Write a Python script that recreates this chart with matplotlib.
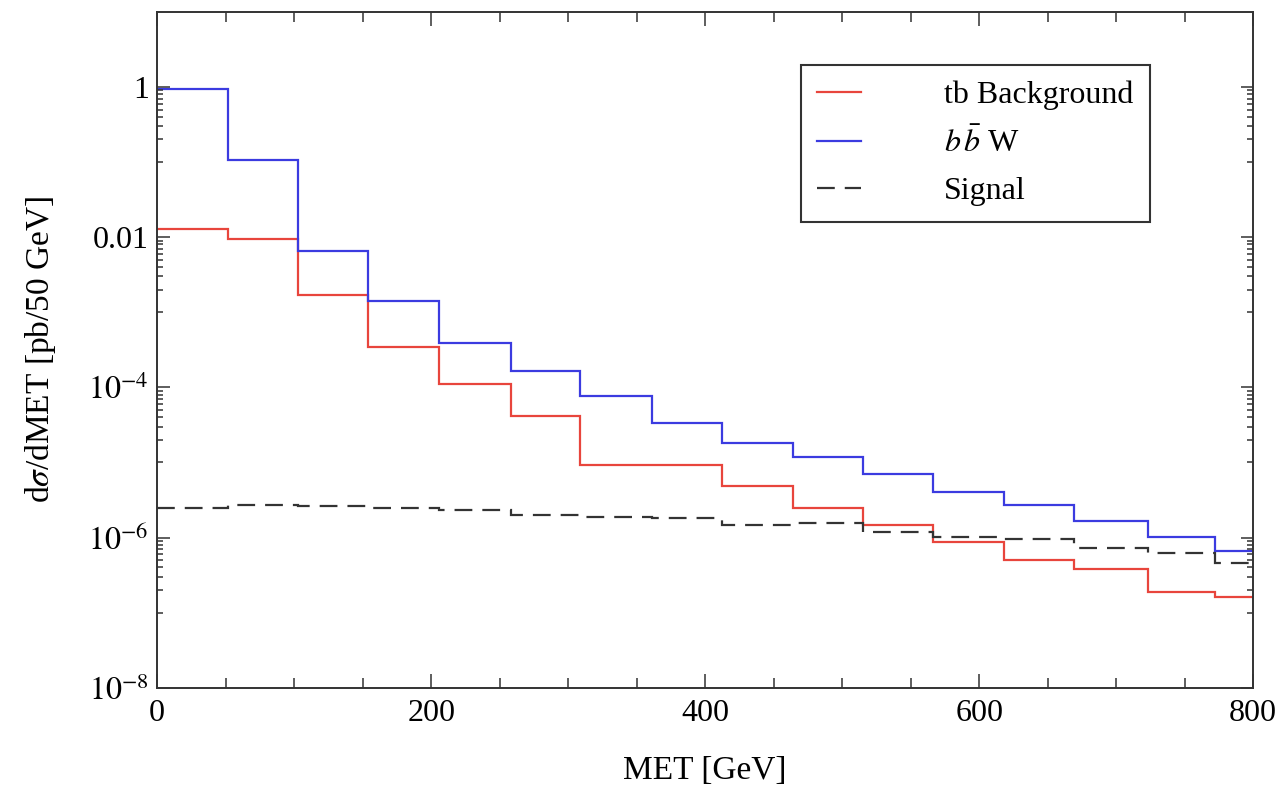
import matplotlib
matplotlib.use("Agg")
import matplotlib.pyplot as plt
import numpy as np

plt.rcParams['font.family'] = ['Liberation Serif', 'DejaVu Serif']
plt.rcParams['mathtext.fontset'] = 'stix'

# bin edges in GeV
edges = [0, 52, 103, 154, 206, 258, 309, 361, 412, 464, 515, 566, 618, 669, 723, 772, 800]

# tb background (red)
tb_bg = [1.3e-2, 9.5e-3, 1.7e-3, 3.5e-4, 1.1e-4, 4.1e-5, 9.3e-6, 9.3e-6,
         4.8e-6, 2.5e-6, 1.47e-6, 8.7e-7, 5.1e-7, 3.8e-7, 1.9e-7, 1.6e-7]
# b bbar W (blue)
bbw = [0.95, 0.105, 6.6e-3, 1.4e-3, 3.9e-4, 1.63e-4, 7.6e-5, 3.4e-5,
       1.8e-5, 1.2e-5, 7.1e-6, 4.1e-6, 2.7e-6, 1.66e-6, 1.02e-6, 6.6e-7]
# signal (dashed)
signal = [2.5e-6, 2.7e-6, 2.6e-6, 2.5e-6, 2.3e-6, 2.0e-6, 1.88e-6, 1.82e-6,
          1.47e-6, 1.56e-6, 1.18e-6, 1.02e-6, 9.6e-7, 7.2e-7, 6.2e-7, 4.6e-7]

ytick_vals = [1e-8, 1e-6, 1e-4, 1e-2, 1]
ytick_labels = ['$10^{-8}$', '$10^{-6}$', '$10^{-4}$', '0.01', '1']

fig = plt.figure(figsize=(12.88, 7.87), dpi=100)
ax = fig.add_axes([0.122, 0.126, 0.851, 0.859])

ax.stairs(tb_bg, edges, baseline=None, color='#e8453c', lw=1.6, label='tb Background')
ax.stairs(bbw, edges, baseline=None, color='#3b3be0', lw=1.6, label=r'$b\,\bar{b}$ W')
sig = ax.stairs(signal, edges, baseline=None, color='#333333', lw=1.6, label='Signal')
sig.set_linestyle((0, (8, 4.5)))

ax.set_yscale('log')
ax.set_xlim(0, 800)
ax.set_ylim(1e-8, 10)

ax.set_yticks(ytick_vals)
ax.set_yticklabels(ytick_labels)
minors = []
for k in [0, -2, -4, -6]:
    for m in range(1, 10):
        minors.append(m * 10.0 ** (k - 1))
ax.set_yticks(minors, minor=True)
ax.set_yticklabels([], minor=True)

ax.set_xticks([0, 200, 400, 600, 800])
ax.set_xticks(np.arange(0, 801, 50), minor=True)

ax.tick_params(axis='both', which='both', direction='in', top=True, right=True,
               labelsize=23, color='#333333', width=1.1)
ax.tick_params(axis='x', which='major', length=10, pad=8)
ax.tick_params(axis='x', which='minor', length=7)
ax.tick_params(axis='y', which='major', length=9, pad=6)
ax.tick_params(axis='y', which='minor', length=4)

for s in ax.spines.values():
    s.set_linewidth(1.4)
    s.set_color('#333333')

ax.set_xlabel('MET [GeV]', fontsize=24, labelpad=20)
ax.set_ylabel(r'd$\sigma$/dMET [pb/50 GeV]', fontsize=24, labelpad=22)

leg = ax.legend(loc='upper left', bbox_to_anchor=(0.587, 0.922), fontsize=23,
                fancybox=False, edgecolor='#333333', framealpha=1,
                handlelength=1.4, handletextpad=2.6, labelspacing=0.55,
                borderpad=0.5, borderaxespad=0)
leg.get_frame().set_linewidth(1.5)

fig.savefig('out.png', dpi=100)
